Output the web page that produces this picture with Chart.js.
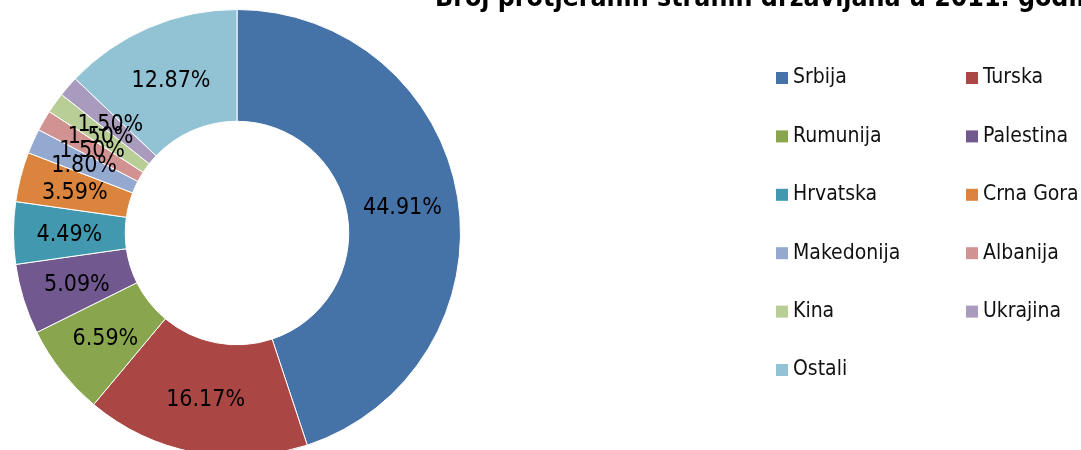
<!DOCTYPE html>
<html>
<head>
<meta charset="utf-8">
<script src="https://cdn.jsdelivr.net/npm/chart.js@4"></script>
<style>
    html, body { margin: 0; padding: 0; background: #fff; }
    #wrap { width: 1081px; height: 450px; overflow: hidden; position: relative; }
</style>
</head>
<body>
<div id="wrap"><canvas id="chart" width="1081" height="470"></canvas></div>
<script>
const title = "Broj protjeranih stranih državljana u 2011. godini";
const countries = ["Srbija", "Turska", "Rumunija", "Palestina", "Hrvatska", "Crna Gora",
    "Makedonija", "Albanija", "Kina", "Ukrajina", "Ostali"];
const persons = [150, 54, 22, 17, 15, 12, 6, 5, 5, 5, 43];
const colors = ["#4572A7", "#AA4643", "#89A54E", "#71588F", "#4198AF", "#DB843D",
    "#93A9CF", "#D19392", "#B9CD96", "#A99BBD", "#92C3D4"];

const FONT = "'DejaVu Sans Condensed', 'Liberation Sans', sans-serif";
const total = persons.reduce((a, b) => a + b, 0);

const overlay = {
    id: "overlay",
    afterDatasetsDraw(chart) {
        const ctx = chart.ctx;
        const arcs = chart.getDatasetMeta(0).data;
        ctx.save();
        ctx.fillStyle = "#000";
        ctx.font = `23px ${FONT}`;
        ctx.textAlign = "center";
        ctx.textBaseline = "middle";
        arcs.forEach((arc, i) => {
            const p = arc.tooltipPosition();
            const pct = (persons[i] / total * 100).toFixed(2) + "%";
            ctx.fillText(pct, p.x, p.y + 2);
        });
        ctx.restore();
    },
    afterDraw(chart) {
        const ctx = chart.ctx;
        ctx.save();
        // title, cut at top edge like the source
        ctx.fillStyle = "#000";
        ctx.font = `bold 26.5px ${FONT}`;
        ctx.textAlign = "left";
        ctx.textBaseline = "alphabetic";
        ctx.fillText(title, 435, 6);

        // two-column legend
        ctx.font = `21px ${FONT}`;
        ctx.textBaseline = "middle";
        chart.data.labels.forEach((name, i) => {
            const x = i % 2 === 0 ? 776 : 966;
            const y = 72 + Math.floor(i / 2) * 58.4;
            ctx.fillStyle = colors[i];
            ctx.fillRect(x, y, 12, 12);
            ctx.fillStyle = "#111";
            ctx.fillText(name, x + 17, y + 6);
        });
        ctx.restore();
    }
};

new Chart(document.getElementById("chart"), {
    type: "doughnut",
    data: {
        labels: countries,
        datasets: [{
            data: persons,
            backgroundColor: colors,
            borderColor: "#ffffff",
            borderWidth: 1,
            hoverOffset: 0
        }]
    },
    options: {
        responsive: false,
        animation: false,
        cutout: "50%",
        layout: { padding: { left: 13, top: 9, right: 620, bottom: 13 } },
        plugins: {
            legend: { display: false },
            title: { display: false },
            tooltip: { enabled: false }
        }
    },
    plugins: [overlay]
});
</script>
</body>
</html>
